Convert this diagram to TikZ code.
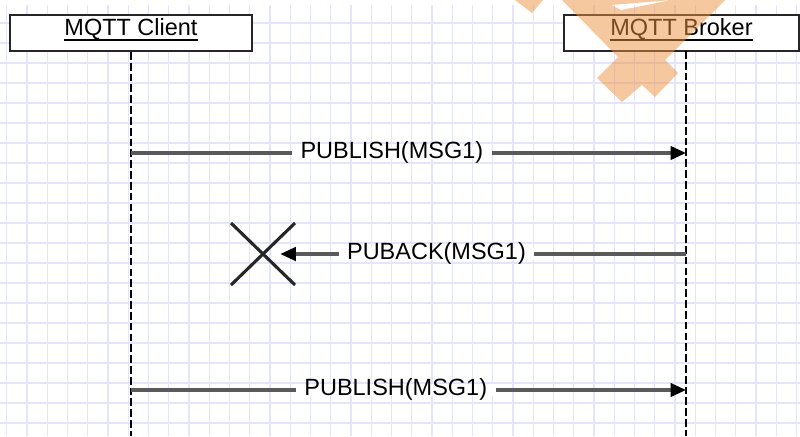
\documentclass[tikz,border=0pt]{standalone}
\usepackage{fontspec}
\setmainfont{Liberation Sans}
\usetikzlibrary{calc, positioning, arrows.meta}

\definecolor{gridblue}{RGB}{228,228,252}
\definecolor{msggray}{RGB}{90,90,90}
\definecolor{markorange}{RGB}{238,146,66}

\newcommand{\actorname}[1]{\setbox0\hbox{#1}\rlap{\rule[-3.3pt]{\wd0}{1.1pt}}\box0}

\begin{document}
\begin{tikzpicture}[x=0.025cm, y=-0.025cm,
    font=\fontsize{16.7pt}{20pt}\selectfont,
    actor/.style={draw=black!85, line width=1.4pt, fill=white, minimum height=0.9cm,
      text height=0.716em, text depth=0.29em, inner sep=0pt},
    lifeline/.style={black, line width=1.5pt, dash pattern=on 5.5pt off 2.2pt},
    msg/.style={msggray, line width=2.2pt, -{Triangle[length=11pt, width=9.5pt, color=black]}},
    msglabel/.style={fill=white, text=black, inner xsep=6pt, inner ysep=1pt,
      text height=0.716em, text depth=0pt},
    gridline/.style={gridblue, line width=0.8pt},
    cross/.style={black!85, line width=2.2pt}]
    \path[use as bounding box, fill=white] (0,0) rectangle (800,436);

    % background grid
    \foreach \k in {0,...,39}
      \draw[gridline] ({6.75+20.25*\k},5) -- ({6.75+20.25*\k},436);
    \foreach \k in {1,...,21}
      \draw[gridline] (0,{3+20*\k}) -- (800,{3+20*\k});

    \node[actor, minimum width=6.05cm] (client) at (131,33) {\actorname{MQTT Client}};
    \node[actor, minimum width=5.875cm] (broker) at (681.5,33) {\actorname{MQTT Broker}};

    \coordinate (client_end) at (131,436);
    \coordinate (broker_top) at (686,51);
    \coordinate (broker_end) at (686,436);
    \draw[lifeline] (client) -- (client_end);
    \draw[lifeline] (broker_top) -- (broker_end);

    % message rows
    \coordinate (m1) at (0,153);
    \coordinate (m2) at (0,254);
    \coordinate (m3) at (0,390);

    \draw[msg] (client |- m1) -- node[msglabel, pos=0.47] {PUBLISH(MSG1)} (broker_top |- m1);

    \node[minimum width=0.85cm, minimum height=1.55cm, inner sep=0pt] (lost) at (263,254) {};
    \draw[cross] ($(lost)+(-32,-31)$) -- ($(lost)+(32,31)$);
    \draw[cross] ($(lost)+(32,-31)$) -- ($(lost)+(-32,31)$);
    \draw[msg] (broker_top |- m2) -- node[msglabel, pos=0.615] {PUBACK(MSG1)} (lost.east);

    \draw[msg] (client |- m3) -- node[msglabel, pos=0.477] {PUBLISH(MSG1)} (broker_top |- m3);

    % watermark
    \fill[markorange, opacity=0.5, even odd rule] (562,0) -- (618,57) -- (597,78) -- (622,102)
      -- (642,85) -- (655,97) -- (678,73) -- (665,60) -- (725,0) -- cycle
      (611,5) -- (672,0) -- (621,10) -- cycle;
    \fill[markorange, opacity=0.5] (515,0) -- (543,0) -- (532,13) -- cycle;

\end{tikzpicture}
\end{document}
